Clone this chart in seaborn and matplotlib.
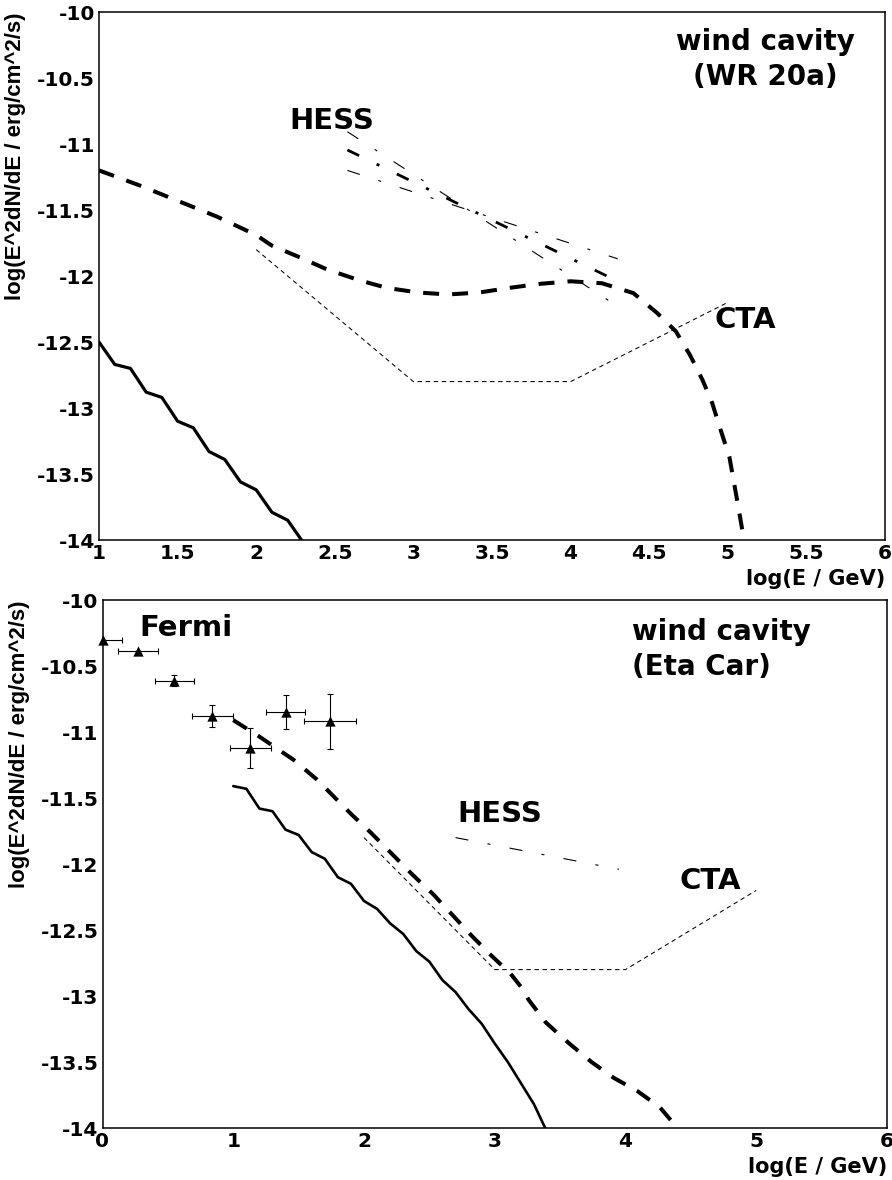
import matplotlib
matplotlib.use("Agg")
import matplotlib.pyplot as plt
import seaborn as sns
from matplotlib.ticker import MultipleLocator, FuncFormatter

# ---------------- data: top panel (WR 20a) ----------------
top_solid_x = [1.0, 1.1, 1.2, 1.3, 1.4, 1.5, 1.6, 1.7, 1.8, 1.9, 2.0, 2.1, 2.2, 2.3]
top_solid_y = [-12.50, -12.67, -12.70, -12.88, -12.92, -13.10, -13.15, -13.33,
               -13.39, -13.56, -13.62, -13.79, -13.85, -14.02]

top_model_x = [1.0, 1.25, 1.5, 1.75, 2.0, 2.1, 2.28, 2.45, 2.65, 2.83, 3.03, 3.22,
               3.42, 3.61, 3.8, 4.0, 4.2, 4.4, 4.55, 4.67, 4.76, 4.84, 4.9, 4.95,
               5.01, 5.04, 5.07, 5.1, 5.12]
top_model_y = [-11.20, -11.31, -11.43, -11.55, -11.69, -11.77, -11.86, -11.95,
               -12.03, -12.09, -12.125, -12.14, -12.125, -12.09, -12.06, -12.04,
               -12.055, -12.13, -12.28, -12.42, -12.60, -12.79, -12.96, -13.15,
               -13.37, -13.57, -13.77, -13.98, -14.10]

cta_x = [2.0, 3.0, 4.0, 5.0]
cta_y = [-11.8, -12.8, -12.8, -12.2]

hess_top_x = [2.58, 4.30]
hess_top_mid = [-11.045, -12.04]
hess_top_steep = [-10.907, -12.23]
hess_top_flat = [-11.20, -11.87]

# ---------------- data: bottom panel (Eta Car) ----------------
fermi_x = [0.0, 0.27, 0.55, 0.84, 1.13, 1.40, 1.74]
fermi_y = [-10.30, -10.39, -10.61, -10.88, -11.12, -10.85, -10.92]
fermi_xerr = [0.15, 0.155, 0.15, 0.155, 0.155, 0.15, 0.20]
fermi_yerr = [0.0, 0.0, 0.045, 0.085, 0.15, 0.13, 0.21]

bot_solid_x = [1.0, 1.1, 1.2, 1.3, 1.4, 1.5, 1.6, 1.7, 1.8, 1.9, 2.0, 2.1, 2.2,
               2.3, 2.4, 2.5, 2.6, 2.7, 2.8, 2.9, 3.0, 3.1, 3.2, 3.3, 3.4]
bot_solid_y = [-11.41, -11.43, -11.58, -11.60, -11.74, -11.78, -11.91, -11.96,
               -12.10, -12.15, -12.28, -12.34, -12.45, -12.53, -12.66, -12.74,
               -12.88, -12.97, -13.10, -13.21, -13.36, -13.50, -13.66, -13.82,
               -14.03]

bot_model_x = [1.0, 1.2, 1.46, 1.64, 1.75, 1.9, 2.06, 2.21, 2.37, 2.53, 2.68, 2.82,
               2.97, 3.12, 3.2, 3.26, 3.39, 3.57, 3.74, 3.91, 4.09, 4.26, 4.38, 4.45]
bot_model_y = [-10.91, -11.035, -11.21, -11.36, -11.47, -11.62, -11.77, -11.92,
               -12.08, -12.23, -12.39, -12.54, -12.69, -12.83, -12.93, -13.03,
               -13.20, -13.36, -13.50, -13.62, -13.72, -13.84, -13.98, -14.06]

hess_bot_x = [2.70, 3.95]
hess_bot_y = [-11.80, -12.04]

ylabel_text = "log(E^2dN/dE / erg/cm^2/s)"
xlabel_text = "log(E / GeV)"

# ---------------- styling ----------------
sns.set_theme(style="white")
plt.rcParams.update({
    "font.family": ["DejaVu Sans"],
    "font.weight": "bold",
    "axes.unicode_minus": False,
    "lines.scale_dashes": False,
    "axes.linewidth": 1.0,
    "axes.edgecolor": "black",
    "xtick.color": "black",
    "ytick.color": "black",
    "text.color": "black",
    "axes.labelcolor": "black",
})

fig = plt.figure(figsize=(8.92, 11.8), dpi=100)
ax1 = fig.add_axes([99 / 892, 1 - 540 / 1180, 786 / 892, 528 / 1180])
ax2 = fig.add_axes([102.5 / 892, 1 - 1128 / 1180, 784.5 / 892, 528 / 1180])

fmt = FuncFormatter(lambda v, p: f"{v:g}")


def style_axes(ax, xlim, xmaj, xmin, xlab_y):
    ax.set_xlim(*xlim)
    ax.set_ylim(-14, -10)
    ax.xaxis.set_major_locator(MultipleLocator(xmaj))
    ax.xaxis.set_minor_locator(MultipleLocator(xmin))
    ax.yaxis.set_major_locator(MultipleLocator(0.5))
    ax.yaxis.set_minor_locator(MultipleLocator(0.1))
    ax.xaxis.set_major_formatter(fmt)
    ax.yaxis.set_major_formatter(fmt)
    ax.tick_params(which="both", direction="in", top=False, right=False,
                   labelsize=14.5, width=1.0, labelcolor="black")
    ax.tick_params(axis="y", which="major", length=18, pad=3)
    ax.tick_params(axis="y", which="minor", length=9)
    ax.tick_params(axis="x", which="major", length=10, pad=3)
    ax.tick_params(axis="x", which="minor", length=5)
    for lab in ax.get_xticklabels() + ax.get_yticklabels():
        lab.set_fontweight("bold")
    for sp in ax.spines.values():
        sp.set_visible(True)
        sp.set_color("black")
        sp.set_linewidth(1.1)
    ax.set_xlabel("")
    ax.set_ylabel("")
    ax.text(-0.106, 1.0, ylabel_text, rotation=90, ha="center", va="top",
            transform=ax.transAxes, fontsize=16, fontweight="bold", color="black",
            family=["Liberation Sans", "DejaVu Sans"])
    ax.text(1.0, xlab_y, xlabel_text, ha="right", va="center",
            transform=ax.transAxes, fontsize=15, fontweight="bold", color="black")


thick_dash = (0, (11.5, 9.4))
cta_dash = (0, (3.2, 2.6))
hess_dash = (0, (9.4, 14, 2.2, 14))

# ---- top panel ----
sns.lineplot(x=top_solid_x, y=top_solid_y, ax=ax1, color="black", linewidth=2.3,
             estimator=None, sort=False)
sns.lineplot(x=top_model_x, y=top_model_y, ax=ax1, color="black", linewidth=2.9,
             linestyle=thick_dash, estimator=None, sort=False)
sns.lineplot(x=cta_x, y=cta_y, ax=ax1, color="black", linewidth=0.75,
             linestyle=cta_dash, estimator=None, sort=False)
sns.lineplot(x=hess_top_x, y=hess_top_mid, ax=ax1, color="black", linewidth=2.0,
             linestyle=hess_dash, estimator=None, sort=False)
sns.lineplot(x=hess_top_x, y=hess_top_steep, ax=ax1, color="black", linewidth=0.8,
             linestyle=hess_dash, estimator=None, sort=False)
sns.lineplot(x=hess_top_x, y=hess_top_flat, ax=ax1, color="black", linewidth=0.8,
             linestyle=hess_dash, estimator=None, sort=False)
style_axes(ax1, (1, 6), 0.5, 0.1, -0.073)

ann = dict(fontsize=21, fontweight="bold", ha="center", va="center", color="black")
ann2 = dict(ann, fontsize=20)
ax1.text(2.48, -10.826, "HESS", **ann)
ax1.text(5.11, -12.33, "CTA", **ann)
ax1.text(5.24, -10.23, "wind cavity", **ann2)
ax1.text(5.24, -10.49, "(WR 20a)", **ann2)

# ---- bottom panel ----
ax2.errorbar(fermi_x, fermi_y, xerr=fermi_xerr, yerr=fermi_yerr, fmt="none",
             ecolor="black", elinewidth=0.8, capsize=2.5, capthick=0.8)
sns.scatterplot(x=fermi_x, y=fermi_y, ax=ax2, marker="^", s=55, color="black",
                edgecolor="black", linewidth=0, clip_on=False, zorder=5)
sns.lineplot(x=bot_solid_x, y=bot_solid_y, ax=ax2, color="black", linewidth=1.9,
             estimator=None, sort=False)
sns.lineplot(x=bot_model_x, y=bot_model_y, ax=ax2, color="black", linewidth=2.9,
             linestyle=thick_dash, estimator=None, sort=False)
sns.lineplot(x=cta_x, y=cta_y, ax=ax2, color="black", linewidth=0.75,
             linestyle=cta_dash, estimator=None, sort=False)
sns.lineplot(x=hess_bot_x, y=hess_bot_y, ax=ax2, color="black", linewidth=0.8,
             linestyle=hess_dash, estimator=None, sort=False)
style_axes(ax2, (0, 6), 1, 0.2, -0.074)

ax2.text(0.635, -10.21, "Fermi", **ann)
ax2.text(3.04, -11.62, "HESS", **ann)
ax2.text(4.65, -12.13, "CTA", **ann)
ann_left = dict(ann2, ha="left")
ax2.text(4.05, -10.24, "wind cavity", **ann_left)
ax2.text(4.05, -10.51, "(Eta Car)", **ann_left)

fig.savefig("out.png", dpi=100, facecolor="white")
